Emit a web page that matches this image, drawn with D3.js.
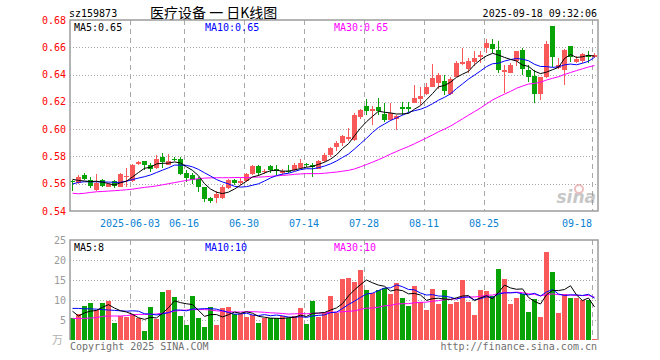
<!DOCTYPE html>
<html lang="en">

<head>
    <meta charset="UTF-8">
    <title>sz159873 日K线图</title>
    <script src="https://cdn.jsdelivr.net/npm/d3@7"></script>
    <style>
        body {
            margin: 0;
            background: #fff;
        }

        text {
            font-family: "DejaVu Sans Mono", "Liberation Mono", monospace;
            font-size: 10px;
        }
    </style>
</head>

<body>
    <svg width="660" height="360"></svg>
</body>
<script>
    // trading days 2025-05-19 .. 2025-09-18
    var dates = [
        "05-19", "05-20", "05-21", "05-22", "05-23", "05-26", "05-27", "05-28", "05-29", "05-30",
        "06-03", "06-04", "06-05", "06-06", "06-09", "06-10", "06-11", "06-12", "06-13", "06-16",
        "06-17", "06-18", "06-19", "06-20", "06-23", "06-24", "06-25", "06-26", "06-27", "06-30",
        "07-01", "07-02", "07-03", "07-04", "07-07", "07-08", "07-09", "07-10", "07-11", "07-14",
        "07-15", "07-16", "07-17", "07-18", "07-21", "07-22", "07-23", "07-24", "07-25", "07-28",
        "07-29", "07-30", "07-31", "08-01", "08-04", "08-05", "08-06", "08-07", "08-08", "08-11",
        "08-12", "08-13", "08-14", "08-15", "08-18", "08-19", "08-20", "08-21", "08-22", "08-25",
        "08-26", "08-27", "08-28", "08-29", "09-01", "09-02", "09-03", "09-04", "09-05", "09-08",
        "09-09", "09-10", "09-11", "09-12", "09-15", "09-16", "09-17", "09-18"
    ];
    var open = [
        0.5622, 0.5608, 0.5666, 0.5627, 0.5554, 0.5627, 0.5578, 0.5617, 0.5578, 0.5652,
        0.5622, 0.5742, 0.5767, 0.5737, 0.5717, 0.5798, 0.5740, 0.5784, 0.5784, 0.5681,
        0.5662, 0.5637, 0.5574, 0.5497, 0.5493, 0.5495, 0.5569, 0.5627, 0.5608, 0.5622,
        0.5671, 0.5730, 0.5688, 0.5730, 0.5706, 0.5681, 0.5693, 0.5701, 0.5715, 0.5742,
        0.5740, 0.5710, 0.5764, 0.5813, 0.5867, 0.5901, 0.5925, 0.5920, 0.6091, 0.6170,
        0.6131, 0.6165, 0.6111, 0.6067, 0.6075, 0.6160, 0.6160, 0.6194, 0.6223, 0.6258,
        0.6311, 0.6336, 0.6355, 0.6258, 0.6385, 0.6478, 0.6443, 0.6492, 0.6531, 0.6598,
        0.6624, 0.6580, 0.6419, 0.6414, 0.6497, 0.6580, 0.6434, 0.6390, 0.6258, 0.6385,
        0.6756, 0.6448, 0.6434, 0.6609, 0.6492, 0.6497, 0.6546, 0.6526
    ];
    var close = [
        0.5615, 0.5652, 0.5637, 0.5583, 0.5603, 0.5583, 0.5598, 0.5583, 0.5671, 0.5659,
        0.5737, 0.5761, 0.5737, 0.5710, 0.5781, 0.5757, 0.5770, 0.5781, 0.5671, 0.5640,
        0.5627, 0.5574, 0.5490, 0.5475, 0.5522, 0.5578, 0.5627, 0.5603, 0.5617, 0.5671,
        0.5730, 0.5681, 0.5693, 0.5701, 0.5691, 0.5691, 0.5689, 0.5735, 0.5750, 0.5740,
        0.5720, 0.5764, 0.5813, 0.5862, 0.5901, 0.5950, 0.5940, 0.6106, 0.6140, 0.6136,
        0.6145, 0.6131, 0.6067, 0.6116, 0.6095, 0.6150, 0.6145, 0.6228, 0.6243, 0.6311,
        0.6375, 0.6394, 0.6277, 0.6365, 0.6487, 0.6492, 0.6497, 0.6521, 0.6543, 0.6632,
        0.6585, 0.6434, 0.6434, 0.6473, 0.6570, 0.6438, 0.6385, 0.6258, 0.6385, 0.6624,
        0.6526, 0.6473, 0.6580, 0.6531, 0.6517, 0.6551, 0.6531, 0.6546
    ];
    var high = [
        0.5625, 0.5661, 0.5681, 0.5647, 0.5671, 0.5632, 0.5607, 0.5627, 0.5676, 0.5717,
        0.5745, 0.5766, 0.5770, 0.5752, 0.5808, 0.5827, 0.5815, 0.5796, 0.5798, 0.5700,
        0.5681, 0.5651, 0.5576, 0.5500, 0.5545, 0.5588, 0.5637, 0.5637, 0.5642, 0.5676,
        0.5735, 0.5735, 0.5710, 0.5740, 0.5740, 0.5710, 0.5740, 0.5750, 0.5784, 0.5750,
        0.5750, 0.5774, 0.5823, 0.5872, 0.5916, 0.5960, 0.6008, 0.6116, 0.6150, 0.6219,
        0.6170, 0.6228, 0.6189, 0.6189, 0.6101, 0.6199, 0.6199, 0.6326, 0.6311, 0.6341,
        0.6478, 0.6409, 0.6394, 0.6380, 0.6497, 0.6595, 0.6521, 0.6575, 0.6570, 0.6658,
        0.6658, 0.6649, 0.6468, 0.6482, 0.6575, 0.6595, 0.6468, 0.6434, 0.6385, 0.6649,
        0.6756, 0.6521, 0.6585, 0.6609, 0.6536, 0.6556, 0.6575, 0.6556
    ];
    var low = [
        0.5548, 0.5598, 0.5627, 0.5569, 0.5547, 0.5578, 0.5573, 0.5569, 0.5578, 0.5578,
        0.5615, 0.5735, 0.5700, 0.5686, 0.5710, 0.5713, 0.5737, 0.5767, 0.5661, 0.5615,
        0.5598, 0.5541, 0.5466, 0.5458, 0.5461, 0.5490, 0.5559, 0.5588, 0.5588, 0.5613,
        0.5666, 0.5657, 0.5671, 0.5676, 0.5666, 0.5666, 0.5681, 0.5696, 0.5706, 0.5720,
        0.5652, 0.5710, 0.5759, 0.5793, 0.5843, 0.5877, 0.5911, 0.5911, 0.6072, 0.6101,
        0.6033, 0.6106, 0.6052, 0.6057, 0.5994, 0.6101, 0.6116, 0.6189, 0.6175, 0.6248,
        0.6306, 0.6292, 0.6248, 0.6248, 0.6380, 0.6473, 0.6409, 0.6463, 0.6482, 0.6560,
        0.6561, 0.6414, 0.6267, 0.6409, 0.6463, 0.6394, 0.6346, 0.6194, 0.6214, 0.6375,
        0.6453, 0.6443, 0.6321, 0.6492, 0.6482, 0.6482, 0.6487, 0.6521
    ];
    // volume, 万手
    var volume = [
        5.4, 6.5, 8.5, 9.2, 7.4, 9.3, 9.8, 4.2, 5.9, 5.8,
        6.4, 5.5, 2.2, 8.3, 5.2, 12.1, 12.6, 10.8, 6.0, 3.8,
        11.0, 5.5, 3.2, 8.3, 3.8, 8.0, 8.3, 6.6, 6.6, 5.8,
        6.2, 4.3, 5.6, 5.4, 5.6, 5.9, 5.4, 6.1, 8.0, 4.0,
        9.8, 5.8, 6.8, 11.0, 6.7, 15.2, 15.4, 14.4, 17.5, 12.5,
        11.7, 12.5, 13.0, 11.5, 14.2, 10.5, 8.5, 13.5, 9.5, 7.5,
        12.7, 9.0, 12.5, 9.0, 9.5, 15.0, 9.5, 6.2, 12.5, 12.2,
        11.0, 17.7, 15.2, 9.0, 10.5, 11.5, 7.0, 10.2, 5.8, 22.0,
        17.0, 6.8, 11.5, 10.5, 10.5, 10.0, 10.0, 0.3
    ];
    // moving averages before enough days are on screen
    var ma5Head = [0.5632, 0.5624, 0.5620, 0.5616];
    var ma10Head = [0.5598, 0.5610, 0.5614, 0.5614, 0.5614, 0.5613, 0.5612, 0.5610, 0.5610];
    var ma30Head = [
        0.5530, 0.5526, 0.5530, 0.5536, 0.5541, 0.5543, 0.5546, 0.5549, 0.5552, 0.5556,
        0.5560, 0.5567, 0.5573, 0.5578, 0.5584, 0.5592, 0.5600, 0.5608, 0.5616, 0.5624,
        0.5631, 0.5637, 0.5641, 0.5643, 0.5644, 0.5644, 0.5644, 0.5645, 0.5646
    ];
    var volMa5Head = [7.2, 6.0, 6.8, 7.2];
    var volMa10Head = [7.9, 7.9, 7.8, 7.8, 7.7, 7.6, 7.5, 7.4, 7.3];
    var volMa30Head = [
        5.4, 5.4, 5.4, 5.5, 5.6, 5.9, 6.0, 6.0, 6.0, 6.1,
        6.3, 6.4, 6.4, 6.4, 6.5, 6.7, 6.9, 7.2, 7.4, 7.5,
        7.6, 7.6, 7.6, 7.5, 7.3, 7.2, 7.1, 7.0, 7.0
    ];

    var priceTicks = [0.54, 0.56, 0.58, 0.60, 0.62, 0.64, 0.66, 0.68];
    var volumeTicks = [5, 10, 15, 20, 25];
    var dateTicks = ["06-03", "06-16", "06-30", "07-14", "07-28", "08-11", "08-25", "09-18"];
    var dateTickLabels = ["2025-06-03", "06-16", "06-30", "07-14", "07-28", "08-11", "08-25", "09-18"];

    var RED = "#fa5959",
        GREEN = "#07a307",
        GRID = "#a8a8a8",
        FRAME = "#9c9c9c";

    var svg = d3.select("svg");

    var x = d3.scaleBand()
        .domain(dates)
        .range([70, 598]);
    var y = d3.scaleLinear()
        .domain([0.54, 0.68])
        .range([211, 20]);
    var yv = d3.scaleLinear()
        .domain([0, 25])
        .range([340, 240]);

    function movingAvg(values, n, head) {
        return values.map(function (v, i) {
            if (i < n - 1) return head[i];
            return d3.mean(values.slice(i - n + 1, i + 1));
        });
    }

    var ma5 = movingAvg(close, 5, ma5Head),
        ma10 = movingAvg(close, 10, ma10Head),
        ma30 = movingAvg(close, 30, ma30Head);
    var vma5 = movingAvg(volume, 5, volMa5Head),
        vma10 = movingAvg(volume, 10, volMa10Head),
        vma30 = movingAvg(volume, 30, volMa30Head);

    var idx = d3.range(dates.length);
    var isUp = function (i) { return close[i] >= open[i]; };
    var cx = function (i) { return x(dates[i]) + 2.5; };

    // ---- header
    svg.append("text").attr("x", 69).attr("y", 13).attr("dy", "0.35em")
        .text("sz159873");
    svg.append("text").attr("x", 150).attr("y", 13).attr("dy", "0.35em")
        .style("font-family", "'Noto Sans CJK SC', sans-serif")
        .style("font-size", "14px")
        .text("医疗设备 一 日K线图");
    svg.append("text").attr("x", 597).attr("y", 13).attr("dy", "0.35em")
        .attr("text-anchor", "end")
        .text("2025-09-18 09:32:06");

    // ---- grids
    var grid = svg.append("g");
    grid.selectAll(".hp")
        .data(priceTicks.slice(1, -1))
        .enter().append("line")
        .attr("x1", 70).attr("x2", 598)
        .attr("y1", function (d) { return Math.round(y(d)) + 0.5; })
        .attr("y2", function (d) { return Math.round(y(d)) + 0.5; })
        .attr("stroke", GRID).attr("stroke-dasharray", "1,2");
    grid.selectAll(".hv")
        .data(volumeTicks.slice(0, -1))
        .enter().append("line")
        .attr("x1", 70).attr("x2", 598)
        .attr("y1", function (d) { return Math.round(yv(d)) + 0.5; })
        .attr("y2", function (d) { return Math.round(yv(d)) + 0.5; })
        .attr("stroke", GRID).attr("stroke-dasharray", "1,2");
    [[20, 211], [240, 340]].forEach(function (r) {
        grid.selectAll(null)
            .data(dateTicks)
            .enter().append("line")
            .attr("x1", function (d) { return x(d) + 0.5; })
            .attr("x2", function (d) { return x(d) + 0.5; })
            .attr("y1", r[0]).attr("y2", r[1])
            .attr("stroke", GRID).attr("stroke-dasharray", "5,4");
    });

    // ---- watermark
    var wm = svg.append("g").attr("opacity", 0.55);
    wm.append("text").attr("x", 596).attr("y", 203)
        .attr("text-anchor", "end")
        .style("font-family", "'DejaVu Sans', sans-serif")
        .style("font-size", "17px").style("font-weight", "bold").style("font-style", "italic")
        .attr("fill", "#9a9a9a")
        .text("sina");
    wm.append("circle").attr("cx", 579).attr("cy", 189).attr("r", 4)
        .attr("fill", "none").attr("stroke", "#e08a8a").attr("stroke-width", 2);

    // ---- candles
    var candles = svg.append("g").attr("shape-rendering", "crispEdges");
    candles.selectAll(".wick")
        .data(idx)
        .enter().append("rect")
        .attr("x", function (i) { return x(dates[i]) + 2; })
        .attr("width", 1)
        .attr("y", function (i) { return y(high[i]); })
        .attr("height", function (i) { return Math.max(1, y(low[i]) - y(high[i])); })
        .attr("fill", function (i) { return isUp(i) ? RED : GREEN; });
    candles.selectAll(".body")
        .data(idx)
        .enter().append("rect")
        .attr("x", function (i) { return x(dates[i]); })
        .attr("width", 5)
        .attr("y", function (i) { return y(Math.max(open[i], close[i])); })
        .attr("height", function (i) { return Math.max(1, Math.abs(y(open[i]) - y(close[i]))); })
        .attr("fill", function (i) { return isUp(i) ? RED : GREEN; });

    // ---- volume bars
    svg.append("g").attr("shape-rendering", "crispEdges")
        .selectAll("rect")
        .data(idx)
        .enter().append("rect")
        .attr("x", function (i) { return x(dates[i]); })
        .attr("width", 5)
        .attr("y", function (i) { return yv(volume[i]); })
        .attr("height", function (i) { return yv(0) - yv(volume[i]); })
        .attr("fill", function (i) { return isUp(i) ? RED : GREEN; });

    // ---- MA lines
    function drawLine(vals, scale, color) {
        var line = d3.line()
            .x(function (d, i) { return cx(i); })
            .y(function (d) { return scale(d); });
        svg.append("path")
            .datum(vals)
            .attr("fill", "none")
            .attr("stroke", color)
            .attr("stroke-width", 1)
            .attr("d", line);
    }
    drawLine(ma30, y, "#ff00ff");
    drawLine(ma10, y, "#0000ff");
    drawLine(ma5, y, "#000000");
    drawLine(vma30, yv, "#ff00ff");
    drawLine(vma10, yv, "#0000ff");
    drawLine(vma5, yv, "#000000");

    // ---- frames
    svg.append("rect").attr("x", 70).attr("y", 20).attr("width", 528).attr("height", 191)
        .attr("fill", "none").attr("stroke", FRAME).attr("stroke-width", 1.5);
    svg.append("path")
        .attr("d", "M70,340V240H598V340")
        .attr("fill", "none").attr("stroke", FRAME).attr("stroke-width", 1.5);

    // ---- axes labels
    svg.append("g").selectAll("text")
        .data(priceTicks)
        .enter().append("text")
        .attr("x", 66).attr("y", function (d) { return y(d); })
        .attr("dy", "0.35em").attr("text-anchor", "end")
        .attr("fill", "#ff0000")
        .text(function (d) { return d3.format(".2f")(d); });
    svg.append("g").selectAll("text")
        .data(volumeTicks)
        .enter().append("text")
        .attr("x", 66).attr("y", function (d) { return yv(d); })
        .attr("dy", "0.35em").attr("text-anchor", "end")
        .attr("fill", "#9a9a9a")
        .text(function (d) { return d; });
    svg.append("text").attr("x", 63).attr("y", 340).attr("dy", "0.35em")
        .attr("text-anchor", "end").attr("fill", "#b0b0b0")
        .style("font-family", "'Noto Sans CJK SC', sans-serif").style("font-size", "11px")
        .text("万");
    svg.append("g").selectAll("text")
        .data(dateTicks)
        .enter().append("text")
        .attr("x", function (d) { return x(d); })
        .attr("y", 223).attr("dy", "0.35em")
        .attr("text-anchor", function (d, i) { return i === dateTicks.length - 1 ? "end" : "middle"; })
        .attr("fill", "#0a82d2")
        .text(function (d, i) { return dateTickLabels[i]; });

    // ---- legends
    var last = dates.length - 1;
    var priceLegend = [
        ["MA5:" + ma5[last].toFixed(2), 74, "#000000"],
        ["MA10:" + ma10[last].toFixed(2), 205, "#0000ff"],
        ["MA30:" + ma30[last].toFixed(2), 334, "#ff00ff"]
    ];
    var volLegend = [
        ["MA5:" + Math.floor(vma5[last]), 74, "#000000"],
        ["MA10:" + Math.floor(vma10[last]), 205, "#0000ff"],
        ["MA30:" + Math.floor(vma30[last]), 334, "#ff00ff"]
    ];
    svg.append("g").selectAll("text")
        .data(priceLegend)
        .enter().append("text")
        .attr("x", function (d) { return d[1]; }).attr("y", 27).attr("dy", "0.35em")
        .attr("fill", function (d) { return d[2]; })
        .text(function (d) { return d[0]; });
    svg.append("g").selectAll("text")
        .data(volLegend)
        .enter().append("text")
        .attr("x", function (d) { return d[1]; }).attr("y", 247).attr("dy", "0.35em")
        .attr("fill", function (d) { return d[2]; })
        .text(function (d) { return d[0]; });

    // ---- footer
    svg.append("text").attr("x", 70).attr("y", 346).attr("dy", "0.35em")
        .attr("fill", "#707070")
        .text("Copyright 2025 SINA.COM");
    svg.append("text").attr("x", 597).attr("y", 346).attr("dy", "0.35em")
        .attr("text-anchor", "end").attr("fill", "#707070")
        .text("http://finance.sina.com.cn");
</script>

</html>
